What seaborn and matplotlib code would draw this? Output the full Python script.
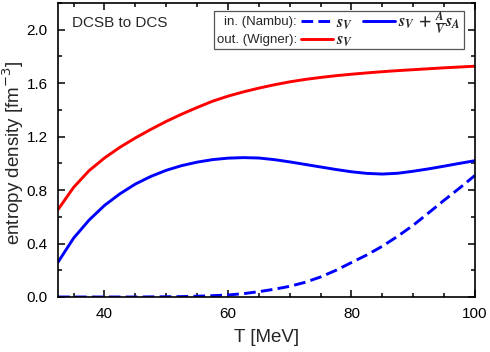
import numpy as np
import pandas as pd
import seaborn as sns
import matplotlib.pyplot as plt
from matplotlib.patches import Rectangle
from matplotlib.ticker import MultipleLocator

sns.set_theme(style="ticks")
plt.rcParams['font.family'] = ['Liberation Sans', 'DejaVu Sans']
# bold italic serif for the legend symbols
plt.rcParams['mathtext.fontset'] = 'custom'
plt.rcParams['mathtext.it'] = 'STIXGeneral:italic:bold'
plt.rcParams['mathtext.rm'] = 'STIXGeneral:bold'
plt.rcParams['mathtext.bf'] = 'STIXGeneral:bold'

# temperature grid [MeV]
T = [32.5, 35, 37.5, 40, 42.5, 45, 47.5, 50, 52.5, 55, 57.5, 60, 62.5, 65, 67.5,
     70, 72.5, 75, 77.5, 80, 82.5, 85, 87.5, 90, 92.5, 95, 97.5, 100]

# outside (Wigner) s_V
s_wigner = [0.655, 0.82, 0.945, 1.04, 1.12, 1.19, 1.254, 1.314, 1.368, 1.418, 1.465, 1.503,
            1.535, 1.563, 1.588, 1.61, 1.628, 1.643, 1.656, 1.667, 1.677, 1.686, 1.694,
            1.701, 1.708, 1.715, 1.721, 1.727]
# inside (Nambu) s_V + A/V s_A
s_nambu_tot = [0.262, 0.44, 0.575, 0.685, 0.772, 0.845, 0.902, 0.948, 0.983, 1.009, 1.028, 1.039,
               1.043, 1.04, 1.028, 1.011, 0.992, 0.973, 0.954, 0.937, 0.925, 0.92, 0.926,
               0.941, 0.959, 0.979, 1.0, 1.02]
# inside (Nambu) s_V
s_nambu_v = [0.0, 0.0, 0.0, 0.0, 0.0, 0.0, 0.001, 0.002, 0.003, 0.006, 0.01, 0.015,
             0.025, 0.04, 0.058, 0.08, 0.11, 0.15, 0.2, 0.258, 0.315, 0.38, 0.455,
             0.537, 0.63, 0.724, 0.815, 0.91]

df = pd.DataFrame({'T': T, 'wigner': s_wigner, 'nambu_tot': s_nambu_tot, 'nambu_v': s_nambu_v})

fig = plt.figure(figsize=(4.9, 3.52), dpi=100)
ax = fig.add_axes([57.5 / 490, 55 / 352, 417.5 / 490, 294 / 352])

sns.lineplot(data=df, x='T', y='nambu_v', ax=ax, color='#0000ff', lw=2.1,
             linestyle=(0, (4, 1.8)), label=r'$s_V$')
sns.lineplot(data=df, x='T', y='wigner', ax=ax, color='#ff0000', lw=2.1,
             label=r'$s_V$')
sns.lineplot(data=df, x='T', y='nambu_tot', ax=ax, color='#0000ff', lw=2.1,
             label=r'$s_V\,+\,\frac{A}{V}s_A$')

ax.set_xlim(32.4, 100)
ax.set_ylim(0, 2.2)
ax.xaxis.set_major_locator(MultipleLocator(20))
ax.xaxis.set_minor_locator(MultipleLocator(5))
ax.yaxis.set_major_locator(MultipleLocator(0.4))
ax.yaxis.set_minor_locator(MultipleLocator(0.2))
ax.yaxis.set_major_formatter(plt.FuncFormatter(lambda v, p: f'{v:.1f}'))
ax.tick_params(which='both', direction='in', top=True, right=True, width=1.1,
               labelsize=11, colors='black', pad=7)
ax.tick_params(which='major', length=5)
ax.tick_params(which='minor', length=3)
for s in ax.spines.values():
    s.set_linewidth(1.2)
    s.set_color('black')

ax.set_xlabel('T [MeV]', fontsize=13.5, labelpad=6)
ax.set_ylabel('entropy density [fm$^{-3}$]', fontsize=13.5,
              math_fontfamily='dejavusans')
ax.yaxis.label.set_va('center')
ax.yaxis.set_label_coords((13 - 57.5) / 417.5, (297 - 153) / 294)
ax.text(0.035, 0.955, 'DCSB to DCS', transform=ax.transAxes, fontsize=11,
        ha='left', va='top')


def xf(px):
    return (px - 57.5) / 417.5


def yf(py):
    return (297 - py) / 294


handles, labels = ax.get_legend_handles_labels()
blank = plt.Line2D([], [], lw=0)
order_h = [handles[0], handles[1], handles[2], blank]
order_l = [labels[0], labels[1], labels[2], '']
leg = ax.legend(order_h, order_l, ncol=2, frameon=False, loc='upper left',
                bbox_to_anchor=(xf(301), yf(10)), fontsize=12, handlelength=1.9,
                handletextpad=0.2, columnspacing=0.6, labelspacing=0.05,
                borderpad=0.0, borderaxespad=0)

ax.text(xf(297), yf(22), 'in. (Nambu):', transform=ax.transAxes, fontsize=9.5,
        ha='right', va='center')
ax.text(xf(297), yf(40), 'out. (Wigner):', transform=ax.transAxes, fontsize=9.5,
        ha='right', va='center')
ax.add_patch(Rectangle((xf(214), yf(49)), (464 - 214) / 417.5, 38 / 294,
                       transform=ax.transAxes, fill=False, ec='#555555', lw=0.9))

fig.savefig('out.png', dpi=100)
